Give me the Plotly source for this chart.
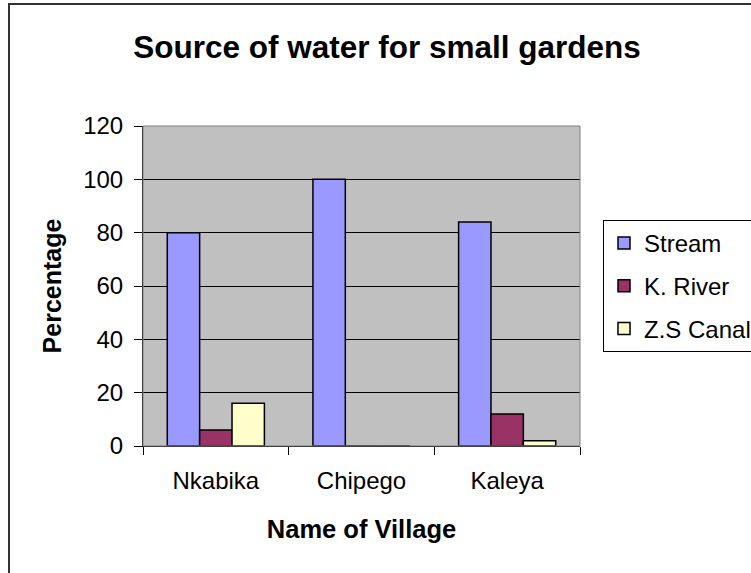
import plotly.graph_objects as go

villages = ["Nkabika", "Chipego", "Kaleya"]
stream = [80, 100, 84]
k_river = [6, 0, 12]
zs_canal = [16, 0, 2]
series_names = ["Stream", "K. River", "Z.S Canal"]
series_colors = ["#9999FF", "#993366", "#FFFFCC"]
y_ticks = [0, 20, 40, 60, 80, 100, 120]

FONT = "Arial, Liberation Sans, sans-serif"

fig = go.Figure()
for name, vals, col in zip(series_names, [stream, k_river, zs_canal], series_colors):
    fig.add_trace(go.Bar(
        x=villages, y=vals, name=name, legendgroup=name,
        marker=dict(color=col, line=dict(color="#000000", width=1.5)),
    ))

W, H = 751, 573
L, R, T, B = 143, 580, 126, 446

def px_x(p):
    return (p - L) / (R - L)

def px_y(p):
    return (B - p) / (B - T)

fig.update_layout(
    width=W, height=H,
    margin=dict(l=L, r=W - R, t=T, b=H - B, autoexpand=False),
    paper_bgcolor="#FFFFFF",
    plot_bgcolor="#C0C0C0",
    barmode="group",
    bargap=1/3,
    bargroupgap=0,
    font=dict(family=FONT, size=24, color="#000000"),
    title=dict(text="<b>Source of water for small gardens</b>",
               x=387 / W, xref="container", xanchor="center",
               y=1 - 47 / H, yref="container", yanchor="middle",
               font=dict(family=FONT, size=31.5, color="#000000")),
    legend=dict(x=px_x(603), y=px_y(220), xanchor="left", yanchor="top",
                bgcolor="#FFFFFF", bordercolor="#000000", borderwidth=1,
                font=dict(family=FONT, size=24, color="#000000"),
                tracegroupgap=8.5, itemclick=False),
    showlegend=True,
    xaxis=dict(
        range=[-0.5, 2.5], tickson="boundaries", ticks="outside", ticklen=8,
        tickcolor="#000000", tickwidth=1,
        showline=True, linecolor="#000000", linewidth=1,
        showgrid=False, zeroline=False,
        tickfont=dict(family=FONT, size=24),
        ticklabelstandoff=13,
        title=dict(text="<b>Name of Village</b>", standoff=27,
                   font=dict(family=FONT, size=25.5)),
    ),
    yaxis=dict(
        range=[0, 120], tickvals=y_ticks, ticks="outside", ticklen=8,
        tickcolor="#000000", tickwidth=1,
        showline=True, linecolor="#000000", linewidth=1,
        showgrid=True, gridcolor="#000000", gridwidth=1,
        zeroline=False,
        tickfont=dict(family=FONT, size=24),
        ticklabelstandoff=6,
        title=dict(text="<b>Percentage</b>", standoff=14,
                   font=dict(family=FONT, size=25)),
    ),
    shapes=[
        dict(type="rect", xref="paper", yref="paper", x0=0, x1=1, y0=0, y1=1,
             line=dict(color="#808080", width=1), layer="above"),
        dict(type="rect", xref="paper", yref="paper",
             x0=px_x(9), x1=px_x(775), y0=px_y(600), y1=px_y(4),
             line=dict(color="#333333", width=2), layer="above"),
    ],
)

fig.write_html("out.html")
